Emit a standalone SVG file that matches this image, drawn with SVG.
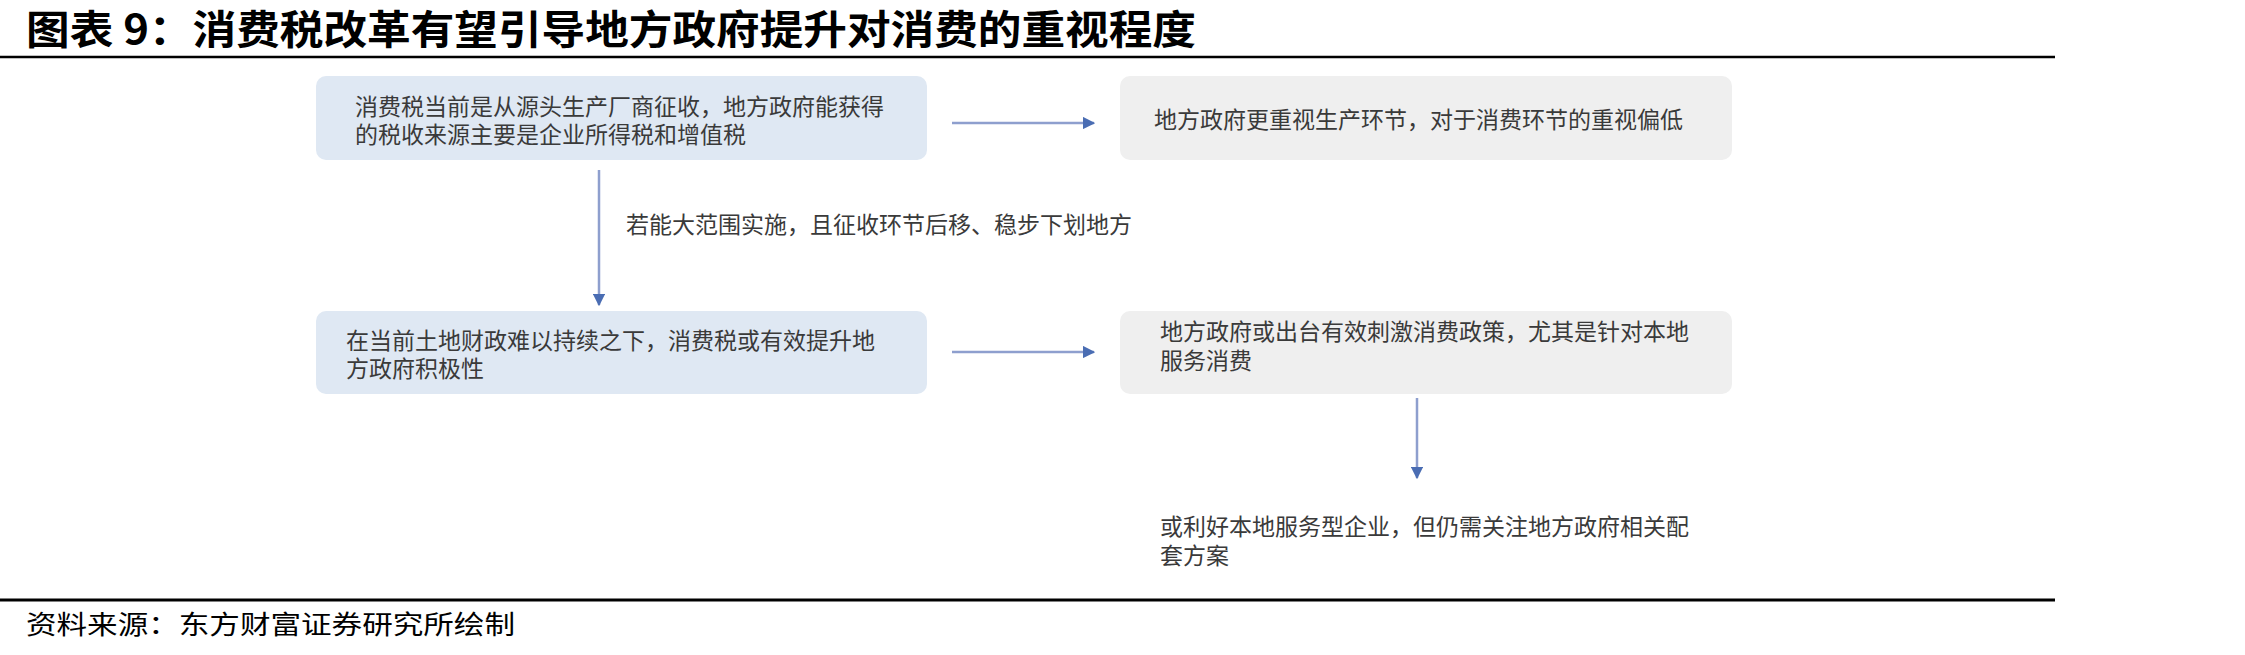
<svg xmlns="http://www.w3.org/2000/svg" width="2245" height="655" viewBox="0 0 2245 655">
<style>
.t{font-family:"Noto Sans CJK SC","Noto Sans",sans-serif;font-size:23px;fill:#3a3a3a}
.blue{fill:#dfe8f3}
.gray{fill:#efefef}
.con{stroke:#8e9fce;stroke-width:2.5;fill:none}
.title{font-family:"Noto Sans CJK SC","Noto Sans",sans-serif;font-size:40px;font-weight:bold;fill:#000}
.foot{font-family:"Noto Sans CJK SC","Noto Sans",sans-serif;font-size:26px;fill:#000}
</style>
<defs>
<marker id="ah" viewBox="0 0 10 10" refX="9" refY="5" markerWidth="5" markerHeight="5" orient="auto" markerUnits="strokeWidth">
<path d="M0,0 L10,5 L0,10 z" fill="#4a6db3"/>
</marker>
</defs>
<rect width="2245" height="655" fill="#fff"/>
<text class="title" x="26" y="44" textLength="1170" lengthAdjust="spacingAndGlyphs">图表 9：消费税改革有望引导地方政府提升对消费的重视程度</text>
<line x1="0" y1="57" x2="2055" y2="57" stroke="#000" stroke-width="2.5"/>
<g id="n1">
<rect class="blue" x="316" y="76" width="611" height="84" rx="10"/>
<text class="t"><tspan x="355" y="115">消费税当前是从源头生产厂商征收，地方政府能获得</tspan><tspan x="355" y="143">的税收来源主要是企业所得税和增值税</tspan></text>
</g>
<g id="n2">
<rect class="gray" x="1120" y="76" width="612" height="84" rx="10"/>
<text class="t" x="1154" y="128">地方政府更重视生产环节，对于消费环节的重视偏低</text>
</g>
<g id="n3">
<rect class="blue" x="316" y="311" width="611" height="83" rx="10"/>
<text class="t"><tspan x="346" y="349">在当前土地财政难以持续之下，消费税或有效提升地</tspan><tspan x="346" y="377">方政府积极性</tspan></text>
</g>
<g id="n4">
<rect class="gray" x="1120" y="311" width="612" height="83" rx="10"/>
<text class="t"><tspan x="1160" y="340">地方政府或出台有效刺激消费政策，尤其是针对本地</tspan><tspan x="1160" y="369">服务消费</tspan></text>
</g>
<g id="n5">
<text class="t"><tspan x="1160" y="535">或利好本地服务型企业，但仍需关注地方政府相关配</tspan><tspan x="1160" y="564">套方案</tspan></text>
</g>
<g id="connectors">
<line class="con" x1="952" y1="123" x2="1094" y2="123" marker-end="url(#ah)"/>
<line class="con" x1="952" y1="352" x2="1094" y2="352" marker-end="url(#ah)"/>
<line class="con" x1="599" y1="170" x2="599" y2="305" marker-end="url(#ah)"/>
<line class="con" x1="1417" y1="398" x2="1417" y2="478" marker-end="url(#ah)"/>
<text class="t" x="626" y="233">若能大范围实施，且征收环节后移、稳步下划地方</text>
</g>
<line x1="0" y1="600" x2="2055" y2="600" stroke="#000" stroke-width="3"/>
<text class="foot" x="26" y="634" textLength="489" lengthAdjust="spacingAndGlyphs">资料来源：东方财富证券研究所绘制</text>
</svg>
